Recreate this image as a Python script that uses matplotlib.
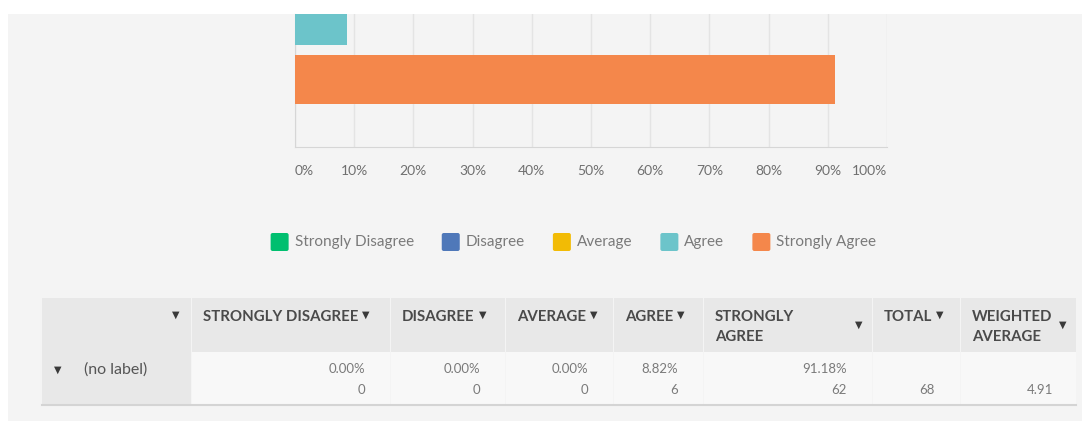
import matplotlib
matplotlib.use("Agg")
import matplotlib.pyplot as plt
from matplotlib.patches import Rectangle, FancyBboxPatch

plt.rcParams['font.family'] = ['Lato', 'DejaVu Sans']

# data
categories = ["Strongly Disagree", "Disagree", "Average", "Agree", "Strongly Agree"]
percents = [0.00, 0.00, 0.00, 8.82, 91.18]
counts = [0, 0, 0, 6, 62]
total = 68
weighted_avg = 4.91
colors = ["#00bf6f", "#4f78b9", "#f2bb05", "#6cc4ca", "#f4874b"]
ticks = [0, 10, 20, 30, 40, 50, 60, 70, 80, 90, 100]
headers = ["STRONGLY DISAGREE", "DISAGREE", "AVERAGE", "AGREE",
           "STRONGLY\nAGREE", "TOTAL", "WEIGHTED\nAVERAGE"]
row_label = "(no label)"

W, H = 1082, 421
BG = "#f4f4f4"

fig = plt.figure(figsize=(W / 100, H / 100), dpi=100)
fig.patch.set_facecolor(BG)

# full-figure overlay in pixel coords for the table and legend
bg = fig.add_axes([0, 0, 1, 1], zorder=0)
bg.set_xlim(0, W)
bg.set_ylim(H, 0)
bg.axis("off")
bg.add_patch(Rectangle((0, 0), W, 14, color="white", lw=0))
bg.add_patch(Rectangle((0, 0), 8, H, color="white", lw=0))

# bar chart
ax = fig.add_axes([295 / W, 1 - 147 / H, (887 - 295) / W, (147 - 14) / H], zorder=1)
ax.set_facecolor(BG)
ax.barh(range(len(categories)), percents, height=0.83, color=colors, zorder=3)
ax.set_ylim(5.144, 2.89)
ax.set_xlim(0, 100)
ax.set_xticks(ticks)
ax.set_xticklabels([f"{t}%" for t in ticks])
ax.set_yticks([])
ax.grid(axis="x", color="#e4e4e4", lw=1, zorder=0)
for s in ["top", "right"]:
    ax.spines[s].set_visible(False)
for s in ["left", "bottom"]:
    ax.spines[s].set_color("#d6d6d6")
ax.tick_params(axis="x", length=0, pad=13, labelsize=10, labelcolor="#6f6f6f")
labs = ax.get_xticklabels()
labs[0].set_ha("left")
labs[-1].set_ha("right")

# legend
fig.canvas.draw()
r = fig.canvas.get_renderer()
items = []
for c, name in zip(colors, categories):
    t = bg.text(0, 242, name, fontsize=11, color="#7a7a7a", va="center", ha="left")
    w = t.get_window_extent(r).width
    items.append((t, c, w))
gap = 27
total_w = sum(20 + 5 + w for _, _, w in items) + gap * (len(items) - 1)
x = 573 - total_w / 2
for t, c, w in items:
    bg.add_patch(FancyBboxPatch((x + 1, 233), 18, 18, boxstyle="round,pad=0,rounding_size=2",
                                color=c, lw=0))
    t.set_x(x + 25)
    x += 25 + w + gap

# table
edges = [42, 191, 390, 505, 613, 703, 872, 960, 1076]
top, mid, bot = 298, 352, 405
HEAD = "#e8e8e8"
bg.add_patch(Rectangle((edges[0], top), edges[1] - edges[0], bot - top, color=HEAD, lw=0))
for i in range(1, len(edges) - 1):
    bg.add_patch(Rectangle((edges[i] + 1, top), edges[i + 1] - edges[i] - 1, mid - top, color=HEAD, lw=0))
    bg.add_patch(Rectangle((edges[i] + 1, mid), edges[i + 1] - edges[i] - 1, bot - mid, color="#f8f8f8", lw=0))
bg.plot([edges[0], edges[-1]], [bot, bot], color="#d4d4d4", lw=1.5)

tri = dict(family="DejaVu Sans", color="#3a3a3a", fontsize=7)
hdr = dict(fontsize=10.8, weight="bold", color="#4a4a4a", va="center")
bg.text(edges[1] - 12, 315, "▼", ha="right", va="center", **tri)
for i, h in enumerate(headers):
    x0 = edges[i + 1] + 12
    if "\n" in h:
        l1, l2 = h.split("\n")
        bg.text(x0, 317, l1, **hdr)
        bg.text(x0, 337, l2, **hdr)
        bg.text(edges[i + 2] - 10, 325, "▼", ha="right", va="center", **tri)
    else:
        t = bg.text(x0, 317, h, **hdr)
        bb = t.get_window_extent(r)
        bg.text(x0 + bb.width + 4, 315, "▼", ha="left", va="center", **tri)

bg.text(58, 370, "▼", ha="center", va="center", **tri)
bg.text(84, 370, row_label, fontsize=11.5, color="#555555", va="center")

num = dict(fontsize=9.5, color="#7a7a7a", ha="right", va="center")
for i, (p, n) in enumerate(zip(percents, counts)):
    xr = edges[i + 2] - 25
    bg.text(xr, 369, f"{p:.2f}%", **num)
    bg.text(xr, 390, f"{n}", **num)
bg.text(edges[7] - 25, 390, f"{total}", **num)
bg.text(edges[8] - 23, 390, f"{weighted_avg:.2f}", **num)

fig.savefig("out.png", dpi=100, facecolor=BG)
